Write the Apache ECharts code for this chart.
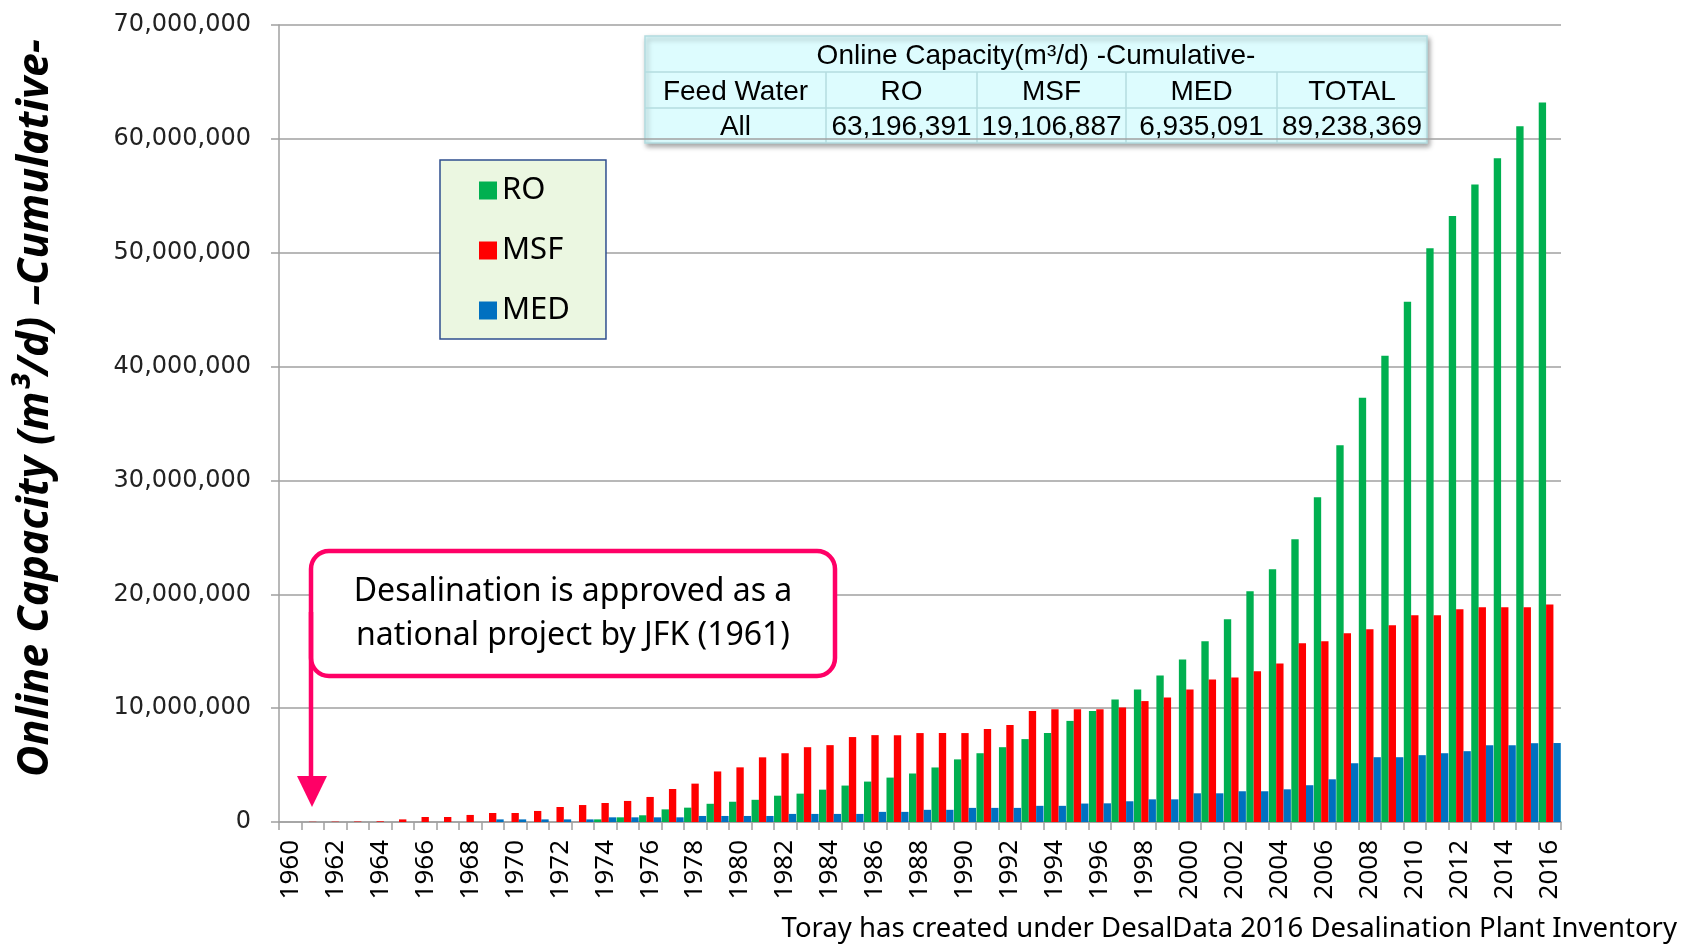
<!DOCTYPE html>
<html>
<head>
<meta charset="utf-8">
<title>Online Capacity -Cumulative-</title>
<script src="https://cdn.jsdelivr.net/npm/echarts@6.0.0/dist/echarts.min.js"></script>
<style>
  html, body { margin: 0; padding: 0; background: #fff; }
  #chart { width: 1690px; height: 945px; }
</style>
</head>
<body>
<div id="chart"></div>
<script>
// years 1960..2016
var years = [
  "1960", "1961", "1962", "1963", "1964", "1965", "1966", "1967", "1968", "1969",
  "1970", "1971", "1972", "1973", "1974", "1975", "1976", "1977", "1978", "1979",
  "1980", "1981", "1982", "1983", "1984", "1985", "1986", "1987", "1988", "1989",
  "1990", "1991", "1992", "1993", "1994", "1995", "1996", "1997", "1998", "1999",
  "2000", "2001", "2002", "2003", "2004", "2005", "2006", "2007", "2008", "2009",
  "2010", "2011", "2012", "2013", "2014", "2015", "2016"
];

// m3/d, cumulative
var roValues = [
  0, 0, 0, 0, 0, 0, 0, 0, 0, 0,
  0, 0, 0, 0, 230000, 410000, 590000, 1110000, 1260000, 1600000,
  1780000, 1950000, 2310000, 2490000, 2840000, 3200000, 3550000, 3900000, 4260000, 4790000,
  5500000, 6040000, 6570000, 7280000, 7810000, 8880000, 9750000, 10760000, 11640000, 12870000,
  14280000, 15870000, 17800000, 20260000, 22200000, 24840000, 28530000, 33100000, 37270000, 40940000,
  45690000, 50400000, 53230000, 56000000, 58300000, 61110000, 63196391
];
var msfValues = [
  0, 20000, 30000, 40000, 60000, 230000, 440000, 440000, 620000, 790000,
  790000, 970000, 1320000, 1490000, 1670000, 1850000, 2200000, 2900000, 3370000, 4440000,
  4800000, 5680000, 6040000, 6570000, 6750000, 7460000, 7630000, 7630000, 7810000, 7810000,
  7810000, 8170000, 8520000, 9760000, 9900000, 9900000, 9900000, 10060000, 10620000, 10940000,
  11640000, 12520000, 12700000, 13230000, 13930000, 15690000, 15870000, 16570000, 16920000, 17270000,
  18150000, 18150000, 18680000, 18860000, 18860000, 18860000, 19106887
];
var medValues = [
  0, 0, 0, 0, 0, 0, 0, 0, 0, 230000,
  230000, 230000, 230000, 230000, 410000, 410000, 410000, 410000, 530000, 530000,
  530000, 530000, 710000, 710000, 710000, 710000, 890000, 890000, 1070000, 1070000,
  1240000, 1240000, 1240000, 1420000, 1420000, 1620000, 1640000, 1820000, 1990000, 1990000,
  2520000, 2520000, 2700000, 2700000, 2870000, 3230000, 3750000, 5160000, 5690000, 5690000,
  5870000, 6040000, 6220000, 6740000, 6740000, 6920000, 6935091
];

// summary table
var tableTitle = "Online Capacity(m\u00b3/d) -Cumulative-";
var tableHeader = ["Feed Water", "RO", "MSF", "MED", "TOTAL"];
var tableRow = ["All", "63,196,391", "19,106,887", "6,935,091", "89,238,369"];

var noteLines = ["Desalination is approved as a", "national project by JFK (1961)"];
var yTitle = "Online Capacity (m\u00b3/d) \u2013Cumulative-";
var footer = "Toray has created under DesalData 2016 Desalination Plant Inventory";

var myChart = echarts.init(document.getElementById("chart"));

//table graphic
var colX = [645, 826, 977, 1126, 1277, 1427];
var rowY = [36, 72, 108, 143];
var tableFont = "28px 'Liberation Sans', Arial, sans-serif";
var tableEls = [
  {
    type: "rect",
    shape: { x: colX[0], y: rowY[0], width: colX[5] - colX[0], height: rowY[3] - rowY[0] },
    style: {
      fill: "#ddfcfe",
      stroke: "#b3dcdf",
      lineWidth: 1.5,
      shadowBlur: 5,
      shadowOffsetX: 2,
      shadowOffsetY: 3,
      shadowColor: "rgba(0,0,0,0.35)",
    },
  },
  {
    type: "line",
    shape: { x1: colX[0], y1: rowY[1], x2: colX[5], y2: rowY[1] },
    style: { stroke: "#b3dcdf", lineWidth: 1.5 },
  },
  {
    type: "line",
    shape: { x1: colX[0], y1: rowY[2], x2: colX[5], y2: rowY[2] },
    style: { stroke: "#b3dcdf", lineWidth: 1.5 },
  },
  {
    type: "text",
    style: {
      x: (colX[0] + colX[5]) / 2,
      y: (rowY[0] + rowY[1]) / 2 + 2,
      text: tableTitle,
      fill: "#000",
      font: tableFont,
      align: "center",
      verticalAlign: "middle",
    },
  },
];
for (var c = 0; c < 5; c++) {
  if (c > 0) {
    tableEls.push({
      type: "line",
      shape: { x1: colX[c], y1: rowY[1], x2: colX[c], y2: rowY[3] },
      style: { stroke: "#b3dcdf", lineWidth: 1.5 },
    });
  }
  tableEls.push({
    type: "text",
    style: {
      x: (colX[c] + colX[c + 1]) / 2,
      y: (rowY[1] + rowY[2]) / 2 + 2,
      text: tableHeader[c],
      fill: "#000",
      font: tableFont,
      align: "center",
      verticalAlign: "middle",
    },
  });
  tableEls.push({
    type: "text",
    style: {
      x: (colX[c] + colX[c + 1]) / 2,
      y: (rowY[2] + rowY[3]) / 2 + 2,
      text: tableRow[c],
      fill: "#000",
      font: tableFont,
      align: "center",
      verticalAlign: "middle",
    },
  });
}

var option = {
  animation: false,
  backgroundColor: "#fff",
  textStyle: { fontFamily: "'Noto Sans', sans-serif" },
  grid: { left: 279, right: 129, top: 25, bottom: 123 },
  legend: {
    data: ["RO", "MSF", "MED"],
    orient: "vertical",
    left: 440,
    top: 160,
    icon: "rect",
    itemWidth: 18,
    itemHeight: 18,
    itemGap: 29,
    itemTextGap: 14,
    padding: [15, 36, 13, 39],
    backgroundColor: "#ebf7e1",
    borderColor: "#2f4f8f",
    borderWidth: 1.5,
    textStyle: { fontSize: 31, color: "#000", fontFamily: "'Noto Sans', sans-serif" },
  },
  xAxis: {
    type: "category",
    data: years,
    axisLine: { lineStyle: { color: "#a0a0a0", width: 1.5 } },
    axisTick: { show: true, interval: 0, length: 8, lineStyle: { color: "#a0a0a0", width: 1.5 } },
    axisLabel: {
      interval: 1,
      rotate: 90,
      margin: 18,
      fontSize: 26,
      color: "#000",
      fontFamily: "'Noto Sans', sans-serif",
    },
  },
  yAxis: {
    type: "value",
    min: 0,
    max: 70000000,
    interval: 10000000,
    axisLine: { show: true, lineStyle: { color: "#a0a0a0", width: 1.5 } },
    axisTick: { show: true, length: 8, lineStyle: { color: "#a0a0a0", width: 1.5 } },
    splitLine: { lineStyle: { color: "#a0a0a0", width: 1.5 } },
    axisLabel: {
      margin: 28,
      fontSize: 24,
      color: "#222",
      fontFamily: "'DejaVu Sans', sans-serif",
      formatter: function (v) {
        return v.toLocaleString("en-US");
      },
    },
  },
  series: [
    {
      name: "RO",
      type: "bar",
      data: roValues,
      barGap: "0%",
      barCategoryGap: "2%",
      itemStyle: { color: "#00b050" },
    },
    {
      name: "MSF",
      type: "bar",
      data: msfValues,
      itemStyle: { color: "#ff0000" },
    },
    {
      name: "MED",
      type: "bar",
      data: medValues,
      itemStyle: { color: "#0070c0" },
    },
  ],
  graphic: [
    {
      type: "group",
      z: 100,
      children: tableEls,
    },
    //JFK note
    {
      type: "rect",
      z: 100,
      shape: { x: 311, y: 551, width: 524, height: 125, r: 18 },
      style: { fill: "#fff", stroke: "#ff0066", lineWidth: 4.5 },
    },
    {
      type: "line",
      z: 101,
      shape: { x1: 311, y1: 612, x2: 311, y2: 780 },
      style: { stroke: "#ff0066", lineWidth: 4.5 },
    },
    {
      type: "polygon",
      z: 101,
      shape: { points: [[297, 776], [327, 776], [312, 807]] },
      style: { fill: "#ff0066" },
    },
    {
      type: "text",
      z: 101,
      style: {
        x: 573,
        y: 592,
        text: noteLines[0],
        fill: "#000",
        font: "32px 'Noto Sans', sans-serif",
        align: "center",
        verticalAlign: "middle",
      },
    },
    {
      type: "text",
      z: 101,
      style: {
        x: 573,
        y: 636,
        text: noteLines[1],
        fill: "#000",
        font: "32px 'Noto Sans', sans-serif",
        align: "center",
        verticalAlign: "middle",
      },
    },
    //axis title
    {
      type: "text",
      z: 100,
      x: 36,
      y: 408,
      rotation: Math.PI / 2,
      style: {
        text: yTitle,
        fill: "#000",
        font: "italic bold 43px 'Noto Sans', sans-serif",
        align: "center",
        verticalAlign: "middle",
      },
    },
    {
      type: "text",
      z: 100,
      style: {
        x: 1677,
        y: 929,
        text: footer,
        fill: "#000",
        font: "27.5px 'Noto Sans', sans-serif",
        align: "right",
        verticalAlign: "middle",
      },
    },
  ],
};
myChart.setOption(option);
</script>
</body>
</html>
